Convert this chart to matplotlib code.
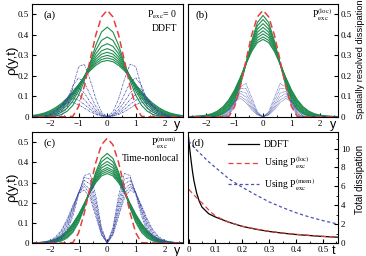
import numpy as np
import matplotlib
matplotlib.use('Agg')
import matplotlib.pyplot as plt
from matplotlib.ticker import MultipleLocator

plt.rcParams['font.family'] = ['Liberation Serif', 'DejaVu Serif']
plt.rcParams['mathtext.fontset'] = 'stix'

# Half profiles (y >= 0), mirrored to y < 0 when drawn
y_half = [0, 0.2, 0.4, 0.6, 0.8, 1.0, 1.2, 1.4, 1.6, 1.8, 2.0, 2.2, 2.4, 2.6, 2.8]

rho_init = [0.520, 0.488, 0.399, 0.276, 0.149, 0.050, 0.002, 0, 0, 0, 0, 0, 0, 0, 0]

rho_a = [
    [0.438, 0.414, 0.349, 0.262, 0.176, 0.105, 0.056, 0.027, 0.011, 0.004, 0.001, 0, 0, 0, 0],
    [0.390, 0.373, 0.325, 0.260, 0.189, 0.126, 0.077, 0.042, 0.022, 0.010, 0.004, 0.002, 0.001, 0, 0],
    [0.357, 0.344, 0.307, 0.254, 0.195, 0.138, 0.091, 0.056, 0.031, 0.016, 0.008, 0.004, 0.002, 0.001, 0],
    [0.333, 0.322, 0.292, 0.247, 0.197, 0.146, 0.102, 0.066, 0.040, 0.023, 0.012, 0.006, 0.003, 0.001, 0.001],
    [0.315, 0.306, 0.280, 0.241, 0.197, 0.151, 0.109, 0.074, 0.048, 0.029, 0.016, 0.009, 0.005, 0.002, 0.001],
    [0.300, 0.292, 0.269, 0.236, 0.195, 0.154, 0.114, 0.081, 0.054, 0.034, 0.021, 0.012, 0.006, 0.003, 0.002],
    [0.287, 0.280, 0.260, 0.230, 0.194, 0.156, 0.119, 0.086, 0.060, 0.039, 0.025, 0.015, 0.008, 0.005, 0.002],
    [0.275, 0.269, 0.251, 0.225, 0.192, 0.157, 0.122, 0.091, 0.065, 0.045, 0.029, 0.018, 0.011, 0.006, 0.003],
]
diss_a = [
    [0, 0.023, 0.088, 0.182, 0.257, 0.245, 0.144, 0.045, 0.006, 0, 0, 0, 0, 0, 0],
    [0, 0.013, 0.051, 0.109, 0.167, 0.190, 0.153, 0.080, 0.024, 0.004, 0, 0, 0, 0, 0],
    [0, 0.009, 0.034, 0.073, 0.116, 0.143, 0.135, 0.091, 0.041, 0.011, 0.002, 0, 0, 0, 0],
    [0, 0.006, 0.024, 0.051, 0.084, 0.109, 0.113, 0.090, 0.051, 0.019, 0.004, 0.001, 0, 0, 0],
    [0, 0.004, 0.016, 0.036, 0.060, 0.081, 0.090, 0.080, 0.054, 0.027, 0.009, 0.002, 0, 0, 0],
    [0, 0.003, 0.011, 0.025, 0.042, 0.059, 0.069, 0.067, 0.052, 0.031, 0.013, 0.004, 0.001, 0, 0],
]

rho_b = [
    [0.495, 0.460, 0.370, 0.257, 0.154, 0.080, 0.036, 0.014, 0.005, 0.001, 0, 0, 0, 0, 0],
    [0.475, 0.444, 0.363, 0.260, 0.162, 0.089, 0.042, 0.018, 0.006, 0.002, 0.001, 0, 0, 0, 0],
    [0.455, 0.428, 0.356, 0.262, 0.170, 0.098, 0.050, 0.022, 0.009, 0.003, 0.001, 0, 0, 0, 0],
    [0.437, 0.413, 0.348, 0.262, 0.176, 0.105, 0.056, 0.027, 0.012, 0.005, 0.002, 0.001, 0, 0, 0],
    [0.420, 0.399, 0.341, 0.262, 0.181, 0.113, 0.063, 0.033, 0.016, 0.007, 0.003, 0.001, 0, 0, 0],
    [0.405, 0.386, 0.333, 0.261, 0.185, 0.120, 0.071, 0.039, 0.020, 0.009, 0.004, 0.002, 0.001, 0, 0],
    [0.390, 0.373, 0.325, 0.260, 0.189, 0.126, 0.078, 0.045, 0.024, 0.012, 0.006, 0.003, 0.001, 0, 0],
    [0.378, 0.362, 0.319, 0.258, 0.192, 0.131, 0.084, 0.050, 0.028, 0.015, 0.008, 0.004, 0.002, 0.001, 0],
]
diss_b = [
    [0, 0.025, 0.094, 0.163, 0.145, 0.052, 0.005, 0, 0, 0, 0, 0, 0, 0, 0],
    [0, 0.020, 0.077, 0.139, 0.138, 0.063, 0.010, 0, 0, 0, 0, 0, 0, 0, 0],
    [0, 0.016, 0.062, 0.115, 0.125, 0.069, 0.015, 0.001, 0, 0, 0, 0, 0, 0, 0],
    [0, 0.013, 0.051, 0.097, 0.114, 0.073, 0.021, 0.002, 0, 0, 0, 0, 0, 0, 0],
    [0, 0.011, 0.041, 0.081, 0.100, 0.073, 0.027, 0.004, 0, 0, 0, 0, 0, 0, 0],
    [0, 0.009, 0.034, 0.069, 0.090, 0.073, 0.032, 0.006, 0, 0, 0, 0, 0, 0, 0],
]

rho_c = [
    [0.445, 0.420, 0.352, 0.262, 0.173, 0.102, 0.053, 0.025, 0.010, 0.004, 0.001, 0, 0, 0, 0],
    [0.425, 0.403, 0.343, 0.262, 0.180, 0.111, 0.061, 0.031, 0.014, 0.005, 0.002, 0.001, 0, 0, 0],
    [0.405, 0.386, 0.333, 0.261, 0.185, 0.120, 0.070, 0.037, 0.018, 0.008, 0.003, 0.001, 0, 0, 0],
    [0.390, 0.373, 0.325, 0.260, 0.189, 0.126, 0.077, 0.042, 0.022, 0.010, 0.004, 0.002, 0.001, 0, 0],
    [0.375, 0.360, 0.317, 0.257, 0.192, 0.132, 0.083, 0.048, 0.026, 0.013, 0.006, 0.002, 0.001, 0, 0],
    [0.365, 0.351, 0.311, 0.255, 0.194, 0.135, 0.088, 0.052, 0.029, 0.015, 0.007, 0.003, 0.001, 0, 0],
    [0.355, 0.342, 0.306, 0.253, 0.195, 0.139, 0.092, 0.056, 0.032, 0.017, 0.008, 0.004, 0.002, 0, 0],
    [0.345, 0.333, 0.299, 0.251, 0.196, 0.142, 0.097, 0.061, 0.036, 0.020, 0.010, 0.005, 0.002, 0.001, 0],
]
diss_c = [
    [0, 0.077, 0.236, 0.345, 0.335, 0.240, 0.133, 0.059, 0.021, 0.006, 0.001, 0, 0, 0, 0],
    [0, 0.067, 0.210, 0.318, 0.325, 0.248, 0.149, 0.073, 0.029, 0.009, 0.003, 0.001, 0, 0, 0],
    [0, 0.058, 0.187, 0.292, 0.311, 0.252, 0.162, 0.085, 0.037, 0.014, 0.004, 0.001, 0, 0, 0],
    [0, 0.051, 0.165, 0.265, 0.294, 0.250, 0.172, 0.097, 0.046, 0.019, 0.006, 0.002, 0, 0, 0],
    [0, 0.045, 0.148, 0.244, 0.280, 0.249, 0.180, 0.109, 0.056, 0.024, 0.009, 0.003, 0.001, 0, 0],
    [0, 0.039, 0.133, 0.223, 0.264, 0.245, 0.186, 0.119, 0.065, 0.031, 0.013, 0.005, 0.001, 0, 0],
]

# Total dissipation vs time, panel (d)
t_vals = [0, 0.005, 0.01, 0.015, 0.02, 0.03, 0.04, 0.05, 0.075, 0.1, 0.15, 0.2, 0.25,
          0.3, 0.35, 0.4, 0.45, 0.5, 0.556]
tot_ddft = [11.2, 9.8, 8.6, 7.5, 6.6, 5.3, 4.4, 3.8, 3.1, 2.75, 2.2, 1.76, 1.46,
            1.22, 1.04, 0.90, 0.79, 0.69, 0.61]
tot_loc = [5.7, 5.55, 5.4, 5.25, 5.1, 4.8, 4.5, 4.25, 3.5, 2.85, 2.2, 1.78, 1.48,
           1.24, 1.06, 0.92, 0.81, 0.71, 0.63]
tot_mem = [10.8, 10.65, 10.5, 10.3, 10.15, 9.85, 9.55, 9.3, 8.6, 8.0, 6.8, 5.9, 5.1,
           4.35, 3.75, 3.2, 2.75, 2.37, 2.0]

GREEN = '#1e8c4e'
BLUE = '#3a46a6'
RED = '#e5403a'


def mirror(v):
    v = np.asarray(v, dtype=float)
    return np.concatenate([v[::-1], v[1:]])


y_full = np.concatenate([-np.asarray(y_half)[::-1], np.asarray(y_half)[1:]])


def profile_panel(ax, rhos, disses, blue_ls):
    for r in rhos:
        ax.plot(y_full, mirror(r), color=GREEN, lw=0.8)
    for d in disses:
        ax.plot(y_full, mirror(d), color=BLUE, lw=0.5, ls=blue_ls)
    ax.plot(y_full, mirror(rho_init), color=RED, lw=1.1, dashes=(4.5, 2.5))
    ax.set_xlim(-2.64, 2.64)
    ax.set_ylim(0, 0.553)
    ax.set_xticks([-2, -1, 0, 1, 2])
    ax.xaxis.set_minor_locator(MultipleLocator(0.5))
    ax.set_yticks([0, 0.1, 0.2, 0.3, 0.4, 0.5])
    ax.set_yticklabels(['0', '0.1', '0.2', '0.3', '0.4', '0.5'])
    ax.tick_params(direction='in', labelsize=6.5, length=3, pad=2)
    ax.tick_params(which='minor', direction='in', length=1.8)
    ax.text(0.985, -0.075, 'y', transform=ax.transAxes, ha='right', va='center',
            fontsize=9, family='Liberation Sans')


fig = plt.figure(figsize=(3.66, 2.56), dpi=100)
ax_a = fig.add_axes([0.0866, 0.544, 0.4126, 0.442])
ax_b = fig.add_axes([0.5137, 0.544, 0.4100, 0.442])
ax_c = fig.add_axes([0.0866, 0.0508, 0.4126, 0.435])
ax_d = fig.add_axes([0.5137, 0.0508, 0.4100, 0.435])

profile_panel(ax_a, rho_a, diss_a, (0, (3, 1.2, 1, 1.2)))
profile_panel(ax_b, rho_b, diss_b, (0, (1, 1)))
profile_panel(ax_c, rho_c, diss_c, (0, (2.5, 1, 1, 1)))

ax_b.yaxis.tick_right()
ax_b.tick_params(left=False)

for ax in (ax_a, ax_c):
    ax.set_ylabel('\u03c1(y,t)', fontsize=9.5, family='Liberation Sans')
    ax.yaxis.set_label_coords(-0.09, 0.5)

ax_a.text(0.075, 0.9, '(a)', transform=ax_a.transAxes, fontsize=8, va='center')
ax_a.text(0.96, 0.9, r'P$_{\rm exc}$= 0', transform=ax_a.transAxes, fontsize=7,
          ha='right', va='center')
ax_a.text(0.96, 0.78, 'DDFT', transform=ax_a.transAxes, fontsize=7, ha='right', va='center')

ax_b.text(0.05, 0.9, '(b)', transform=ax_b.transAxes, fontsize=8, va='center')
ax_b.text(0.96, 0.9, r'P$_{\rm exc}^{\rm (loc)}$', transform=ax_b.transAxes, fontsize=7,
          ha='right', va='center')

ax_c.text(0.075, 0.9, '(c)', transform=ax_c.transAxes, fontsize=8, va='center')
ax_c.text(0.96, 0.9, r'P$_{\rm exc}^{\rm (mem)}$', transform=ax_c.transAxes, fontsize=7,
          ha='right', va='center')
ax_c.text(0.98, 0.76, 'Time-nonlocal', transform=ax_c.transAxes, fontsize=7,
          ha='right', va='center')

# panel (d)
ax_d.plot(t_vals, tot_ddft, color='black', lw=0.9, label='DDFT')
ax_d.plot(t_vals, tot_loc, color=RED, lw=0.9, dashes=(4, 2.5),
          label=r'Using P$_{\rm exc}^{\rm (loc)}$')
ax_d.plot(t_vals, tot_mem, color='#4a52b0', lw=0.9, dashes=(2.5, 2),
          label=r'Using P$_{\rm exc}^{\rm (mem)}$')
ax_d.set_xlim(-0.002, 0.556)
ax_d.set_ylim(0, 11.8)
ax_d.set_xticks([0, 0.1, 0.2, 0.3, 0.4, 0.5])
ax_d.set_xticklabels(['0', '0.1', '0.2', '0.3', '0.4', '0.5'])
ax_d.xaxis.set_minor_locator(MultipleLocator(0.05))
ax_d.set_yticks([0, 2, 4, 6, 8, 10])
ax_d.yaxis.set_minor_locator(MultipleLocator(1))
ax_d.yaxis.tick_right()
ax_d.tick_params(direction='in', labelsize=6.5, length=3, pad=2)
ax_d.tick_params(which='minor', direction='in', length=1.8)
ax_d.text(0.985, -0.075, 't', transform=ax_d.transAxes, ha='right', va='center',
          fontsize=9, family='Liberation Sans')
ax_d.text(0.02, 0.9, '(d)', transform=ax_d.transAxes, fontsize=8, va='center')
ax_d.legend(loc='upper left', bbox_to_anchor=(0.24, 0.96), frameon=False, fontsize=7,
            handlelength=3.2, handletextpad=0.5, labelspacing=0.55, borderaxespad=0)

fig.text(0.984, 0.768, 'Spatially resolved dissipation', rotation=90, ha='center',
         va='center', fontsize=6.7, family='Liberation Sans')
fig.text(0.984, 0.30, 'Total dissipation', rotation=90, ha='center', va='center',
         fontsize=7, family='Liberation Sans')

fig.savefig('out.png', dpi=100)
